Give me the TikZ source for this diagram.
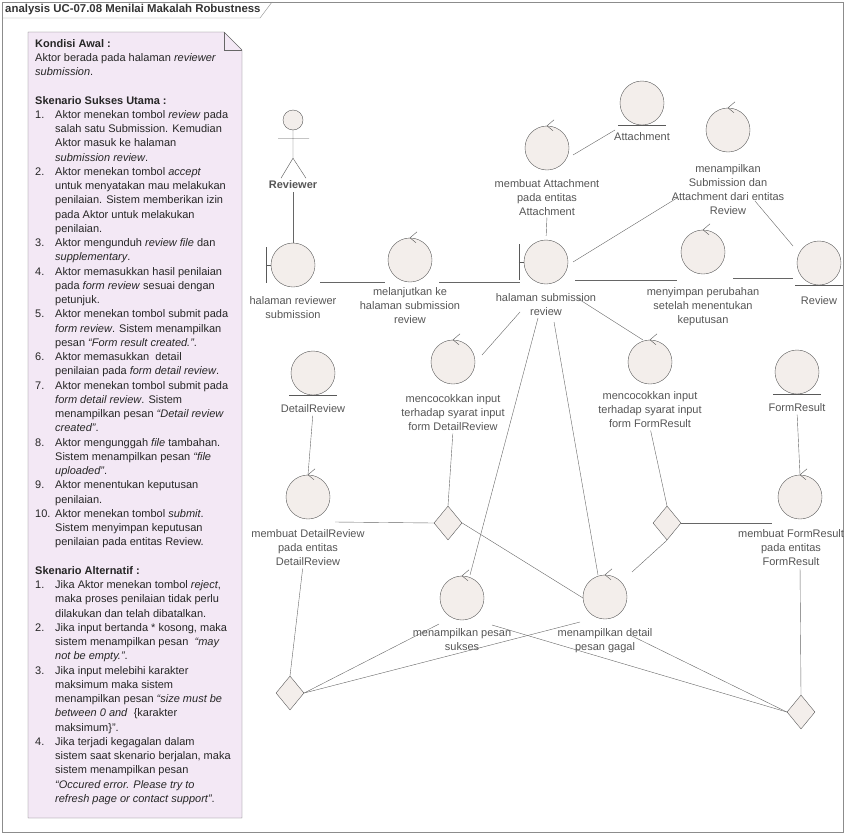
\documentclass[tikz,border=0pt]{standalone}
\usepackage{fontspec}
\setmainfont{Liberation Sans}
\usepackage{tikz}
\usetikzlibrary{positioning, calc, shapes.geometric}

\definecolor{robfill}{RGB}{243,238,235}
\definecolor{notefill}{RGB}{243,232,245}
\definecolor{lbltext}{RGB}{85,85,85}

% robustness elements: [label gap] name, position, label
\newcommand{\ctrlel}[4][9pt]{%
    \node[rob] (#2) at #3 {};
    \draw[robline] ($(#2.north)+(7,-6)$) -- (#2.north) -- ++(6,5);
    \node[lbl, below=#1 of #2] (#2-l) {#4};}
\newcommand{\entel}[4][9pt]{%
    \node[rob] (#2) at #3 {};
    \draw[robline] ($(#2.south)+(-24,0)$) -- ++(48,0);
    \node[lbl, below=#1 of #2] (#2-l) {#4};}
\newcommand{\bndel}[4][9pt]{%
    \node[rob] (#2) at #3 {};
    \draw[robline] ($(#2.west)+(-5,-18)$) -- ++(0,36) ($(#2.west)+(-5,0)$) -- (#2.west);
    \node[lbl, below=#1 of #2] (#2-l) {#4};}
\newcommand{\nitem}[1]{\makebox[20pt][l]{#1}}
\newcommand{\ncont}{\hspace*{20pt}}

\begin{document}
\begin{tikzpicture}[
        x=1pt, y=-1pt,
        rob/.style={
            circle,
            draw=black!65,
            fill=robfill,
            minimum size=44pt,
            inner sep=0pt
        },
        robline/.style={draw=black!65},
        lbl/.style={
            inner sep=0pt,
            align=center,
            text=lbltext,
            font=\fontsize{11}{14}\selectfont
        },
        decision/.style={
            diamond,
            draw=black!65,
            fill=robfill,
            minimum width=28pt,
            minimum height=34pt,
            inner sep=0pt
        },
        conn/.style={draw=black!60}
    ]
    \useasboundingbox (0,0) rectangle (845,838);

    % Frame and title tab
    \draw[black!45] (2,2) rectangle (843,832);
    \draw[black!45] (2,18) -- (260,18) -- (272,2);
    \node[anchor=west, inner sep=0pt, font=\bfseries\fontsize{11.4}{13}\selectfont, text=black!80]
        (frametitle) at (5,10) {analysis UC-07.08 Menilai Makalah Robustness};

    % Note with scenario
    \filldraw[draw=black!60, fill=notefill] (28,32) -- (224,32) -- (242,50) -- (242,818) -- (28,818) -- cycle;
    \draw[black!60] (224,32) -- (224,50) -- (242,50);
    \node[anchor=north west, inner sep=0pt, align=left, text=black!85,
          font=\fontsize{11}{14.25}\selectfont] (note) at (35,39) {%
        \textbf{Kondisi Awal :}\\
        Aktor berada pada halaman \textit{reviewer}\\
        \textit{submission}.\\
        \mbox{}\\
        \textbf{Skenario Sukses Utama :}\\
        \nitem{1.}Aktor menekan tombol \textit{review} pada\\
        \ncont salah satu Submission. Kemudian\\
        \ncont Aktor masuk ke halaman\\
        \ncont\textit{submission review}.\\
        \nitem{2.}Aktor menekan tombol \textit{accept}\\
        \ncont untuk menyatakan mau melakukan\\
        \ncont penilaian. Sistem memberikan izin\\
        \ncont pada Aktor untuk melakukan\\
        \ncont penilaian.\\
        \nitem{3.}Aktor mengunduh \textit{review file} dan\\
        \ncont\textit{supplementary}.\\
        \nitem{4.}Aktor memasukkan hasil penilaian\\
        \ncont pada \textit{form review} sesuai dengan\\
        \ncont petunjuk.\\
        \nitem{5.}Aktor menekan tombol submit pada\\
        \ncont\textit{form review}. Sistem menampilkan\\
        \ncont pesan \textit{``Form result created.''}.\\
        \nitem{6.}Aktor memasukkan\ \ detail\\
        \ncont penilaian pada \textit{form detail review}.\\
        \nitem{7.}Aktor menekan tombol submit pada\\
        \ncont\textit{form detail review}. Sistem\\
        \ncont menampilkan pesan \textit{``Detail review}\\
        \ncont\textit{created''}.\\
        \nitem{8.}Aktor mengunggah \textit{file} tambahan.\\
        \ncont Sistem menampilkan pesan \textit{``file}\\
        \ncont\textit{uploaded''}.\\
        \nitem{9.}Aktor menentukan keputusan\\
        \ncont penilaian.\\
        \nitem{10.}Aktor menekan tombol \textit{submit}.\\
        \ncont Sistem menyimpan keputusan\\
        \ncont penilaian pada entitas Review.\\
        \mbox{}\\
        \textbf{Skenario Alternatif :}\\
        \nitem{1.}Jika Aktor menekan tombol \textit{reject},\\
        \ncont maka proses penilaian tidak perlu\\
        \ncont dilakukan dan telah dibatalkan.\\
        \nitem{2.}Jika input bertanda * kosong, maka\\
        \ncont sistem menampilkan pesan\ \ \textit{``may}\\
        \ncont\textit{not be empty.''}.\\
        \nitem{3.}Jika input melebihi karakter\\
        \ncont maksimum maka sistem\\
        \ncont menampilkan pesan \textit{``size must be}\\
        \ncont\textit{between 0 and}\ \ \{karakter\\
        \ncont maksimum\}''.\\
        \nitem{4.}Jika terjadi kegagalan dalam\\
        \ncont sistem saat skenario berjalan, maka\\
        \ncont sistem menampilkan pesan\\
        \ncont\textit{``Occured error. Please try to}\\
        \ncont\textit{refresh page or contact support''}.};

    % Actor
    \node[circle, draw=black!65, fill=robfill, minimum size=20pt, inner sep=0pt] (reviewer) at (293,120) {};
    \draw[robline] (reviewer.south) -- ++(0,28) -- ++(-12,20)
                   ($(reviewer.south)+(0,28)$) -- ++(13,20)
                   ($(reviewer.south)+(-15,8)$) -- ++(31,0);
    \node[lbl, font=\bfseries\fontsize{11}{14}\selectfont] (reviewer-l) at (293,185) {Reviewer};

    % Boundaries, controls and entities
    \bndel{hrs}{(293,265)}{halaman reviewer\\submission}
    \ctrlel[5pt]{lanjut}{(410,260)}{melanjutkan ke\\halaman submission\\review}
    \bndel{hsr}{(546,262)}{halaman submission\\review}
    \ctrlel{buatatt}{(547,148)}{membuat Attachment\\pada entitas\\Attachment}
    \entel[7pt]{att}{(642,103)}{Attachment}
    \ctrlel[12pt]{tampil}{(728,130)}{menampilkan\\Submission dan\\Attachment dari entitas\\Review}
    \ctrlel[13pt]{simpan}{(703,252)}{menyimpan perubahan\\setelah menentukan\\keputusan}
    \entel[11pt]{review}{(819,263)}{Review}
    \entel{detrev}{(313,373)}{DetailReview}
    \ctrlel[10pt]{cocokdr}{(453,362)}{mencocokkan input\\terhadap syarat input\\form DetailReview}
    \ctrlel[7pt]{cocokfr}{(650,362)}{mencocokkan input\\terhadap syarat input\\form FormResult}
    \entel{formres}{(797,372)}{FormResult}
    \ctrlel[10pt]{buatdr}{(308,497)}{membuat DetailReview\\pada entitas\\DetailReview}
    \ctrlel[10pt]{buatfr}{(800,497)}{}
    \node[lbl, below=10pt of buatfr, xshift=-9pt] (buatfr-l) {membuat FormResult\\pada entitas\\FormResult};
    \ctrlel[8pt]{sukses}{(462,598)}{menampilkan pesan\\sukses}
    \ctrlel[9pt]{gagal}{(605,597)}{menampilkan detail\\pesan gagal}

    % Decisions
    \node[decision] (dec1) at (448,523) {};
    \node[decision] (dec2) at (667,523) {};
    \node[decision] (dec3) at (290,693) {};
    \node[decision] (dec4) at (801,712) {};

    % Connectors: top row
    \draw[conn, shorten <=3pt] (reviewer-l.south) -- (hrs.north);
    \draw[conn] ($(hrs)+(27,17)$) -- ($(lanjut)+(-25,22)$);
    \draw[conn] ($(lanjut)+(29,22)$) -- ($(hsr)+(-26,20)$);
    \draw[conn, shorten <=2pt, shorten >=4pt] (buatatt-l.south) -- (hsr.north);
    \draw[conn] ($(buatatt)+(26,7)$) -- ($(att)+(-27,27)$);
    \draw[conn] ($(hsr)+(27,0)$) -- ($(tampil)+(-51,68)$);
    \draw[conn] ($(tampil)+(27,71)$) -- ($(review)+(-26,-17)$);
    \draw[conn] ($(hsr)+(29,18)$) -- ($(simpan)+(-26,28)$);
    \draw[conn] ($(simpan)+(30,26)$) -- ($(review)+(-26,15)$);

    % Connectors: from submission review page
    \draw[conn] ($(hsr)+(-26,50)$) -- ($(cocokdr)+(29,-7)$);
    \draw[conn] ($(hsr)+(-8,56)$) -- ($(sukses)+(8,-23)$);
    \draw[conn] ($(hsr)+(8,60)$) -- ($(gagal)+(-7,-22)$);
    \draw[conn] ($(hsr)+(31,36)$) -- ($(cocokfr)+(-7,-22)$);

    % Connectors: checks and entities
    \draw[conn, shorten <=3pt] (detrev-l.south) -- (buatdr.north);
    \draw[conn, shorten <=3pt] (cocokdr-l.south) -- (dec1.north);
    \draw[conn] (dec1.west) -- ($(buatdr)+(27,25)$);
    \draw[conn] (dec1.east) -- ($(gagal)+(-22,1)$);
    \draw[conn, shorten <=3pt] (cocokfr-l.south) -- (dec2.north);
    \draw[conn] (dec2.east) -- ($(buatfr)+(-28,26)$);
    \draw[conn] (dec2.south) -- ($(gagal)+(27,-25)$);
    \draw[conn, shorten <=3pt] (formres-l.south) -- (buatfr.north);

    % Connectors: bottom decisions
    \draw[conn, shorten <=3pt] ($(buatdr-l.south)+(-5,0)$) -- (dec3.north);
    \draw[conn, shorten <=3pt] (buatfr-l.south -| buatfr) -- (dec4.north);
    \draw[conn] (dec3.east) -- ($(sukses)+(-23,26)$);
    \draw[conn] (dec3.east) -- ($(gagal)+(-25,25)$);
    \draw[conn] (dec4.west) -- ($(sukses)+(30,27)$);
    \draw[conn] (dec4.west) -- ($(gagal)+(25,38)$);
\end{tikzpicture}
\end{document}
